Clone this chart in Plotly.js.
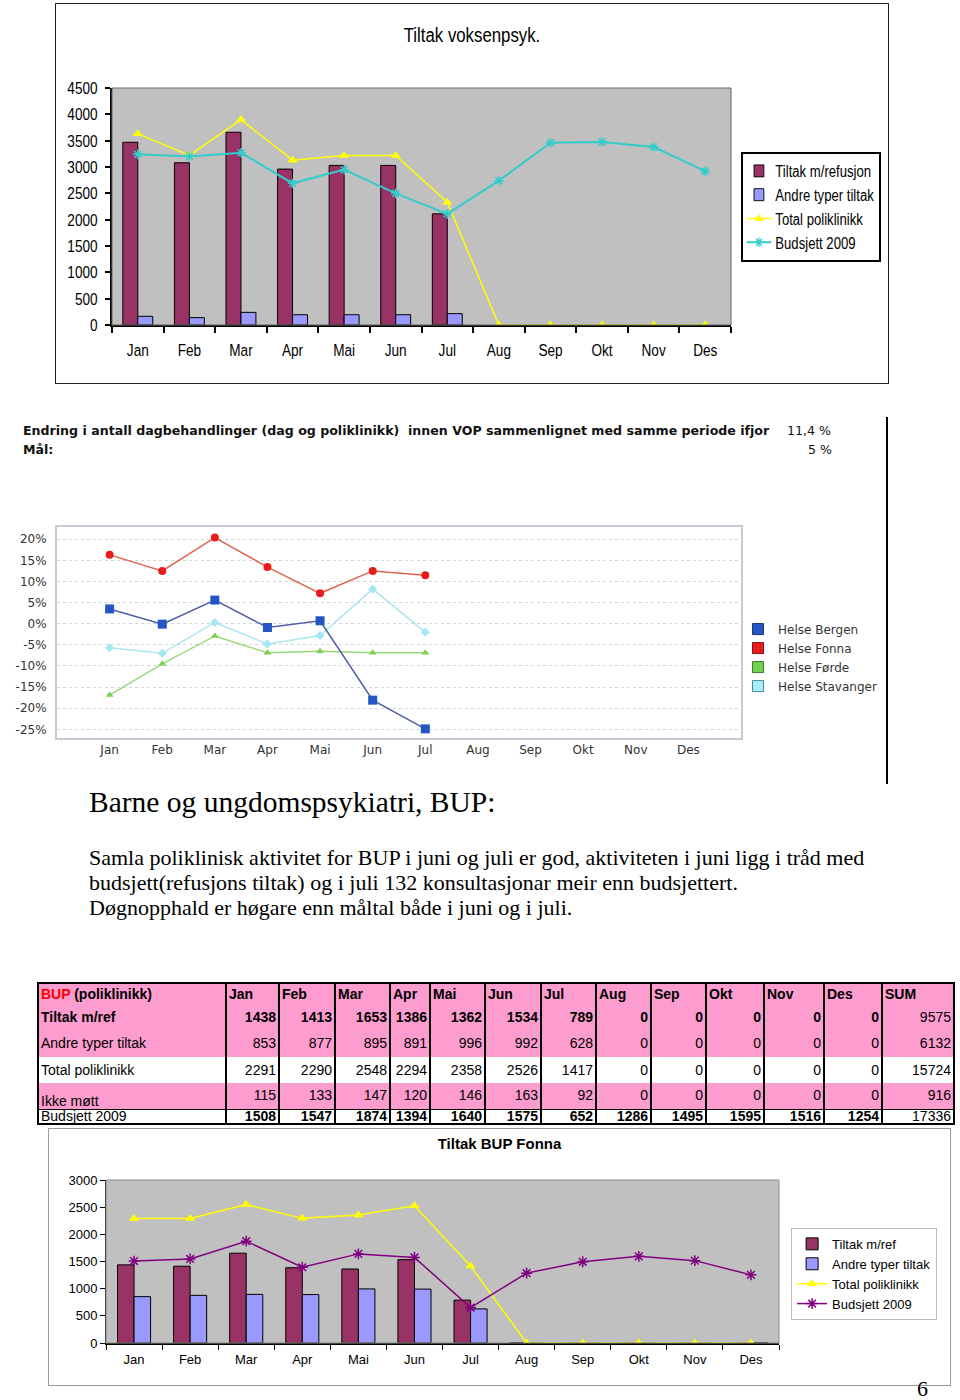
<!DOCTYPE html>
<html><head><meta charset="utf-8">
<script src="https://cdn.plot.ly/plotly-3.0.1.min.js"></script>
<style>
html,body{margin:0;padding:0;background:#fff}
body{position:relative;width:960px;height:1400px;overflow:hidden}
.abs{position:absolute}
#c1{left:55px;top:3px;width:832px;height:379px;border:1px solid #222}
#c2{left:0;top:410px;width:885px;height:375px}
#c3{left:48px;top:1128px;width:901px;height:256px;border:1px solid #9a9a9a}
.hdr{font-family:"DejaVu Sans",sans-serif;font-size:12.6px;color:#111;white-space:pre;line-height:14px}
.serif{font-family:"Liberation Serif","Times New Roman",serif;color:#000;white-space:pre}
#tbl{left:37px;top:982px;border-collapse:collapse;table-layout:fixed;font-family:"Liberation Sans",Arial,sans-serif;font-size:14px;color:#000;border-top:2px solid #000;border-bottom:2px solid #000}
#tbl td{padding:0 2px;border-left:2px solid #000;border-right:2px solid #000;white-space:nowrap;overflow:visible}
</style></head>
<body>
<div id="c1" class="abs"></div>
<div class="abs hdr" style="left:23px;top:424px;font-weight:bold">Endring i antall dagbehandlinger (dag og poliklinikk)  innen VOP sammenlignet med samme periode ifjor</div>
<div class="abs hdr" style="left:787px;top:424px">11,4 %</div>
<div class="abs hdr" style="left:23px;top:443px;font-weight:bold">Mål:</div>
<div class="abs hdr" style="left:808px;top:443px">5 %</div>
<div class="abs" style="left:886px;top:417px;width:2px;height:367px;background:#000"></div>
<div id="c2" class="abs"></div>
<div class="abs serif" style="left:89px;top:787px;font-size:29.5px;line-height:30px">Barne og ungdomspsykiatri, BUP:</div>
<div class="abs serif" style="left:89px;top:845px;font-size:22px;line-height:25px">Samla poliklinisk aktivitet for BUP i juni og juli er god, aktiviteten i juni ligg i tråd med
budsjett(refusjons tiltak) og i juli 132 konsultasjonar meir enn budsjettert.
Døgnopphald er høgare enn måltal både i juni og i juli.</div>
<table id="tbl" class="abs"></table>
<div id="c3" class="abs"></div>
<div class="abs serif" style="left:917px;top:1380px;font-size:22px;line-height:18px">6</div>
<script>
// ---------- data ----------
const months = ['Jan','Feb','Mar','Apr','Mai','Jun','Jul','Aug','Sep','Okt','Nov','Des'];

// Chart 1: Tiltak voksenpsyk.
const voksTiltak   = [3470, 3080, 3660, 2960, 3030, 3030, 2110, null, null, null, null, null];
const voksAndre    = [165, 140, 240, 195, 195, 195, 215, null, null, null, null, null];
const voksTotal    = [3630, 3220, 3900, 3130, 3220, 3220, 2330, 0, 0, 0, 0, 0];
const voksBudsjett = [3240, 3200, 3270, 2690, 2950, 2500, 2110, 2740, 3460, 3475, 3380, 2920];

// Chart 2: Endring (%)
const bergen    = [3.5, -0.1, 5.6, -0.9, 0.7, -18.1, -24.9];
const fonna     = [16.3, 12.5, 20.4, 13.4, 7.2, 12.5, 11.5];
const forde     = [-16.9, -9.5, -2.9, -6.9, -6.5, -6.9, -6.9];
const stavanger = [-5.7, -7.0, 0.3, -4.8, -2.8, 8.2, -2.0];
const pctTicks  = [-25, -20, -15, -10, -5, 0, 5, 10, 15, 20];
const pctLabels = ['-25%', '-20%', '-15%', '-10%', '-5%', '0%', '5%', '10%', '15%', '20%'];

// Table / Chart 3: BUP (poliklinikk)
const bupTiltak   = [1438, 1413, 1653, 1386, 1362, 1534, 789, 0, 0, 0, 0, 0];
const bupAndre    = [853, 877, 895, 891, 996, 992, 628, 0, 0, 0, 0, 0];
const bupTotal    = [2291, 2290, 2548, 2294, 2358, 2526, 1417, 0, 0, 0, 0, 0];
const bupIkkeMott = [115, 133, 147, 120, 146, 163, 92, 0, 0, 0, 0, 0];
const bupBudsjett = [1508, 1547, 1874, 1394, 1640, 1575, 652, 1286, 1495, 1595, 1516, 1254];
const bupSums     = [9575, 6132, 15724, 916, 17336];

const cfg = {staticPlot: true, displayModeBar: false};
const ARIAL = '"Liberation Sans", Arial, sans-serif';

// horizontally condense SVG texts (mimics the narrow font of the original)
function condense(nodes, k) {
  nodes.forEach(t => {
    const x = parseFloat(t.getAttribute('x')) || 0;
    const tr = t.getAttribute('transform') || '';
    t.setAttribute('transform', tr + ' translate(' + x + ',0) scale(' + k + ',1) translate(' + (-x) + ',0)');
  });
}

// ---------- chart 1 ----------
Plotly.newPlot('c1', [
  {type: 'bar', name: 'Tiltak m/refusjon', x: months, y: voksTiltak, marker: {color: '#993366', line: {color: '#000', width: 1}}},
  {type: 'bar', name: 'Andre typer tiltak', x: months, y: voksAndre, marker: {color: '#9999ff', line: {color: '#000', width: 1}}},
  {type: 'scatter', mode: 'lines+markers', name: 'Total poliklinikk', x: months, y: voksTotal, line: {color: '#ffff00', width: 1.5}, marker: {symbol: 'triangle-up', size: 9, color: '#ffff00'}},
  {type: 'scatter', mode: 'lines+markers', name: 'Budsjett 2009', x: months, y: voksBudsjett, line: {color: '#33cccc', width: 2}, marker: {symbol: 'asterisk-open', size: 8, color: '#33cccc', line: {color: '#33cccc', width: 1.5}}}
], {
  width: 832, height: 379, margin: {l: 56, r: 157, t: 84, b: 58, autoexpand: false},
  paper_bgcolor: '#fff', plot_bgcolor: '#c0c0c0',
  font: {family: ARIAL, size: 17, color: '#000'},
  title: {text: 'Tiltak voksenpsyk.', font: {family: ARIAL, size: 21, color: '#000', weight: 500}, x: 0.5, xanchor: 'center', xref: 'container', y: 1 - 31 / 379, yref: 'container', yanchor: 'middle'},
  barmode: 'group', bargap: 0.42, bargroupgap: 0,
  xaxis: {type: 'category', categoryarray: months, range: [-0.5, 11.5], showline: true, linecolor: '#000', linewidth: 2, ticks: 'outside', tickson: 'boundaries', ticklen: 6, tickwidth: 2, tickcolor: '#000', ticklabelstandoff: 9, showgrid: false, zeroline: false},
  yaxis: {range: [0, 4500], tick0: 0, dtick: 500, showline: true, linecolor: '#000', linewidth: 2, ticks: 'outside', ticklen: 5, tickwidth: 2, tickcolor: '#000', ticklabelstandoff: 4, showgrid: false, zeroline: false},
  legend: {x: 1.016, xanchor: 'left', y: 0.73, yanchor: 'top', bgcolor: '#fff', bordercolor: '#000', borderwidth: 2, itemwidth: 30, font: {family: ARIAL, size: 16, color: '#000'}},
  shapes: [{type: 'rect', xref: 'paper', yref: 'paper', x0: 0, x1: 1, y0: 0, y1: 1, line: {color: '#666', width: 1}}]
}, cfg).then(gd => {
  const lg = gd.querySelector('g.legend');
  if (lg) lg.setAttribute('transform', (lg.getAttribute('transform') || '') + ' scale(0.82,1)');
  condense(Array.from(gd.querySelectorAll('g.xtick text, g.ytick text, text.gtitle')), 0.8);
});

// ---------- chart 2 ----------
const DV = '"DejaVu Sans", Verdana, sans-serif';
const m7 = months.slice(0, 7);
Plotly.newPlot('c2', [
  {type: 'scatter', mode: 'lines+markers', x: m7, y: fonna, showlegend: false, line: {color: '#e0644e', width: 1.5}, marker: {symbol: 'circle', size: 8, color: '#e81c1c'}},
  {type: 'scatter', mode: 'lines+markers', x: m7, y: stavanger, showlegend: false, line: {color: '#aee6f0', width: 1.5}, marker: {symbol: 'diamond', size: 7, color: '#a4e8f4'}},
  {type: 'scatter', mode: 'lines+markers', x: m7, y: forde, showlegend: false, line: {color: '#9ad87c', width: 1.5}, marker: {symbol: 'triangle-up', size: 7, color: '#7ccf55'}},
  {type: 'scatter', mode: 'lines+markers', x: m7, y: bergen, showlegend: false, line: {color: '#4c5ea6', width: 1.5}, marker: {symbol: 'square', size: 9, color: '#2456c4'}},
  {type: 'scatter', mode: 'markers', name: 'Helse Bergen', x: [months[0]], y: [null], marker: {symbol: 'square', size: 11, color: '#2456c4', line: {color: '#1a3575', width: 1}}},
  {type: 'scatter', mode: 'markers', name: 'Helse Fonna', x: [months[0]], y: [null], marker: {symbol: 'square', size: 11, color: '#e81c1c', line: {color: '#8a1010', width: 1}}},
  {type: 'scatter', mode: 'markers', name: 'Helse Førde', x: [months[0]], y: [null], marker: {symbol: 'square', size: 11, color: '#74d04e', line: {color: '#3d7a2a', width: 1}}},
  {type: 'scatter', mode: 'markers', name: 'Helse Stavanger', x: [months[0]], y: [null], marker: {symbol: 'square', size: 11, color: '#a8eef8', line: {color: '#4a8898', width: 1}}}
], {
  width: 885, height: 375, margin: {l: 57, r: 144, t: 117, b: 47, autoexpand: false},
  paper_bgcolor: 'rgba(0,0,0,0)', plot_bgcolor: '#fff',
  font: {family: DV, size: 12, color: '#333'},
  xaxis: {type: 'category', categoryarray: months, range: [-1, 12], showline: true, mirror: true, linecolor: '#c8cbd6', linewidth: 2, ticks: '', showgrid: false, zeroline: false, ticklabelstandoff: 0},
  yaxis: {range: [-27.06, 22.9], tickvals: pctTicks, ticktext: pctLabels, showline: true, mirror: true, linecolor: '#c8cbd6', linewidth: 2, ticks: '', showgrid: true, gridcolor: '#d4d4d4', griddash: 'dot', gridwidth: 1, zeroline: false, ticklabelstandoff: 6},
  legend: {x: 0.9956, xanchor: 'left', y: 0.585, yanchor: 'top', bgcolor: 'rgba(0,0,0,0)', borderwidth: 0, itemwidth: 30, font: {family: DV, size: 12, color: '#333'}, tracegroupgap: 0}
}, cfg);

// ---------- table ----------
(function () {
  const tbl = document.getElementById('tbl');
  const widths = [188, 53, 56, 55, 40, 55, 56, 55, 55, 55, 58, 60, 58, 72];
  const PINK = '#fd9dcf';
  const rows = [
    {label: '<span style="color:#ff0000">BUP</span> (poliklinikk)', vals: months.concat(['SUM']), bg: PINK, h: 20, head: true},
    {label: 'Tiltak m/ref', vals: bupTiltak.concat([bupSums[0]]), bg: PINK, h: 26, bold: true},
    {label: 'Andre typer tiltak', vals: bupAndre.concat([bupSums[1]]), bg: PINK, h: 27},
    {label: 'Total poliklinikk', vals: bupTotal.concat([bupSums[2]]), bg: '#fff', h: 26},
    {label: 'Ikke møtt', vals: bupIkkeMott.concat([bupSums[3]]), bg: PINK, h: 26, split: true},
    {label: 'Budsjett 2009', vals: bupBudsjett.concat([bupSums[4]]), bg: '#fff', h: 13, boldNums: true, top: true}
  ];
  let html = '<colgroup>' + widths.map(w => '<col style="width:' + w + 'px">').join('') + '</colgroup>';
  rows.forEach(r => {
    const bt = r.top ? 'border-top:1px solid #000;' : '';
    const lh = Math.min(r.h, 15);
    html += '<tr style="height:' + r.h + 'px;background:' + r.bg + '">';
    let ls = 'height:' + r.h + 'px;line-height:' + lh + 'px;text-align:left;' + bt +
      (r.head || r.bold ? 'font-weight:bold;' : '') + (r.split ? 'vertical-align:bottom;' : 'vertical-align:middle;');
    html += '<td style="' + ls + '">' + r.label + '</td>';
    r.vals.forEach((v, i) => {
      const isSum = i === r.vals.length - 1;
      let st = 'line-height:' + lh + 'px;' + bt;
      if (r.head) st += 'text-align:left;font-weight:bold;vertical-align:middle;';
      else st += 'text-align:right;' + ((r.bold || r.boldNums) && !isSum ? 'font-weight:bold;' : '');
      if (r.split) st += 'vertical-align:top;padding-top:5px;';
      else if (!r.head) st += 'vertical-align:middle;';
      html += '<td style="' + st + '">' + v + '</td>';
    });
    html += '</tr>';
  });
  tbl.innerHTML = html;
})();

// ---------- chart 3 ----------
Plotly.newPlot('c3', [
  {type: 'bar', name: 'Tiltak m/ref', x: months, y: bupTiltak, marker: {color: '#993366', line: {color: '#000', width: 1}}},
  {type: 'bar', name: 'Andre typer tiltak', x: months, y: bupAndre, marker: {color: '#9999ff', line: {color: '#000', width: 1}}},
  {type: 'scatter', mode: 'lines+markers', name: 'Total poliklinikk', x: months, y: bupTotal, line: {color: '#ffff00', width: 1.5}, marker: {symbol: 'triangle-up', size: 9, color: '#ffff00'}},
  {type: 'scatter', mode: 'lines+markers', name: 'Budsjett 2009', x: months, y: bupBudsjett, line: {color: '#800080', width: 1.5}, marker: {symbol: 'asterisk-open', size: 9, color: '#800080', line: {color: '#800080', width: 1.5}}}
], {
  width: 901, height: 256, margin: {l: 57, r: 171, t: 51, b: 42, autoexpand: false},
  paper_bgcolor: '#fff', plot_bgcolor: '#c0c0c0',
  font: {family: ARIAL, size: 13, color: '#000'},
  title: {text: 'Tiltak BUP Fonna', font: {family: ARIAL, size: 15, color: '#000', weight: 700}, x: 0.5, xanchor: 'center', xref: 'container', y: 1 - 15 / 256, yref: 'container', yanchor: 'middle'},
  barmode: 'group', bargap: 0.41, bargroupgap: 0,
  xaxis: {type: 'category', categoryarray: months, range: [-0.5, 11.5], showline: true, linecolor: '#000', linewidth: 1.5, ticks: 'outside', tickson: 'boundaries', ticklen: 5, tickcolor: '#000', ticklabelstandoff: 4, showgrid: false, zeroline: false},
  yaxis: {range: [0, 3000], tick0: 0, dtick: 500, showline: true, linecolor: '#000', linewidth: 1, ticks: 'outside', ticklen: 5, tickcolor: '#000', showgrid: false, zeroline: false},
  legend: {x: 1.018, xanchor: 'left', y: 0.706, yanchor: 'top', bgcolor: '#fff', bordercolor: '#bbb', borderwidth: 1, itemwidth: 30, font: {family: ARIAL, size: 13, color: '#000'}},
  shapes: [{type: 'rect', xref: 'paper', yref: 'paper', x0: 0, x1: 1, y0: 0, y1: 1, line: {color: '#8a8a8a', width: 1}}]
}, cfg);
</script>
</body></html>
